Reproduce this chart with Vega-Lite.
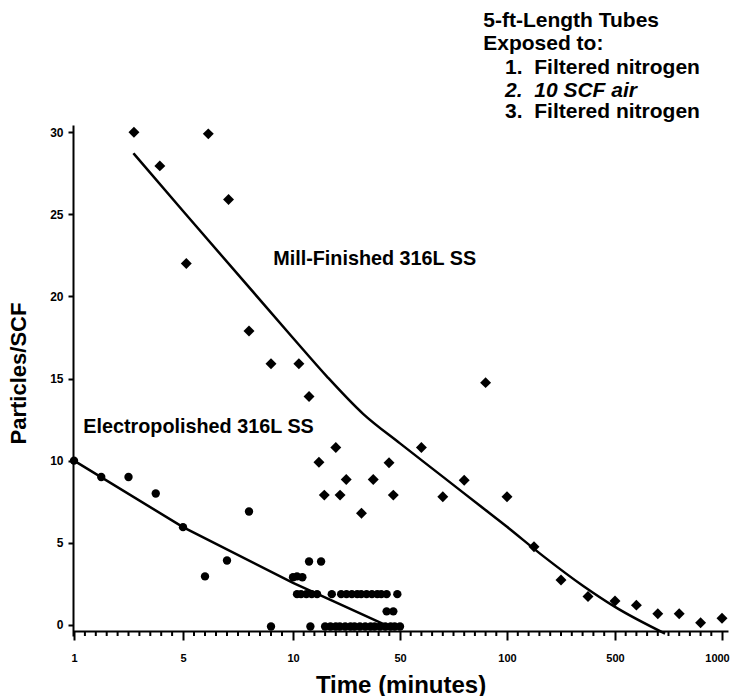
{
  "$schema": "https://vega.github.io/schema/vega-lite/v6.json",
  "width": 655,
  "height": 511,
  "autosize": "none",
  "padding": {"left": 73, "top": 125, "right": 5, "bottom": 60},
  "background": "white",
  "config": {
    "view": {"stroke": null},
    "font": "Liberation Sans",
    "axis": {"grid": false, "domainColor": "black", "tickColor": "black", "labelColor": "black", "titleColor": "black"}
  },
  "datasets": {
    "mill": [
      {"t": 3.2, "p": 30}, {"t": 4.15, "p": 27.95}, {"t": 5.15, "p": 22}, {"t": 6.15, "p": 29.9},
      {"t": 7.07, "p": 25.9}, {"t": 8, "p": 17.9}, {"t": 9, "p": 15.9}, {"t": 12.2, "p": 15.9},
      {"t": 16, "p": 13.9}, {"t": 19.7, "p": 9.9}, {"t": 21.7, "p": 7.9}, {"t": 26, "p": 10.8},
      {"t": 27.6, "p": 7.9}, {"t": 29.9, "p": 8.85}, {"t": 35.6, "p": 6.8}, {"t": 40, "p": 8.85},
      {"t": 45.9, "p": 9.87}, {"t": 47.5, "p": 7.9}, {"t": 60, "p": 10.8}, {"t": 70, "p": 7.8},
      {"t": 80, "p": 8.8}, {"t": 90, "p": 14.75}, {"t": 100, "p": 7.8}, {"t": 200, "p": 4.75},
      {"t": 300, "p": 2.73}, {"t": 400, "p": 1.72}, {"t": 500, "p": 1.45}, {"t": 600, "p": 1.2},
      {"t": 700, "p": 0.68}, {"t": 800, "p": 0.68}, {"t": 900, "p": 0.13}, {"t": 1000, "p": 0.4}
    ],
    "electro": [
      {"t": 1, "p": 10}, {"t": 2, "p": 9}, {"t": 3, "p": 9}, {"t": 4, "p": 8}, {"t": 5, "p": 5.95},
      {"t": 6, "p": 2.95}, {"t": 7, "p": 3.92}, {"t": 8, "p": 6.9}, {"t": 9, "p": -0.1},
      {"t": 10, "p": 2.9}, {"t": 11.5, "p": 2.95}, {"t": 13.5, "p": 2.9}, {"t": 16, "p": 3.86}, {"t": 20.5, "p": 3.86},
      {"t": 11.5, "p": 1.87}, {"t": 13, "p": 1.87}, {"t": 15, "p": 1.87}, {"t": 17, "p": 1.87}, {"t": 19, "p": 1.87},
      {"t": 24.5, "p": 1.87}, {"t": 28, "p": 1.87}, {"t": 30, "p": 1.87}, {"t": 32, "p": 1.87}, {"t": 34, "p": 1.87},
      {"t": 35.5, "p": 1.87}, {"t": 37.5, "p": 1.87}, {"t": 39.5, "p": 1.87}, {"t": 41.5, "p": 1.87}, {"t": 43, "p": 1.87},
      {"t": 45, "p": 1.87}, {"t": 49, "p": 1.87},
      {"t": 45, "p": 0.82}, {"t": 47.5, "p": 0.82},
      {"t": 16.5, "p": -0.1}, {"t": 22, "p": -0.1}, {"t": 24, "p": -0.1}, {"t": 26, "p": -0.1}, {"t": 27.5, "p": -0.1},
      {"t": 29.5, "p": -0.1}, {"t": 31.5, "p": -0.1}, {"t": 33, "p": -0.1}, {"t": 35, "p": -0.1}, {"t": 37, "p": -0.1},
      {"t": 39, "p": -0.1}, {"t": 40.5, "p": -0.1}, {"t": 42.5, "p": -0.1}, {"t": 44.5, "p": -0.1}, {"t": 46.5, "p": -0.1},
      {"t": 48, "p": -0.1}, {"t": 50, "p": -0.1}
    ],
    "millcurve": [
      {"t": 3.18, "p": 28.72}, {"t": 5, "p": 25.2}, {"t": 10, "p": 17.47}, {"t": 22.7, "p": 15.12},
      {"t": 36.2, "p": 12.85}, {"t": 50, "p": 11.05}, {"t": 70.1, "p": 9.01}, {"t": 87.4, "p": 7.25},
      {"t": 100, "p": 5.97}, {"t": 233, "p": 4.2}, {"t": 381, "p": 2.38}, {"t": 500, "p": 1.09},
      {"t": 734, "p": -0.54}
    ],
    "electrocurve": [
      {"t": 1, "p": 10}, {"t": 5, "p": 5.95}, {"t": 10, "p": 2.56}, {"t": 23.8, "p": 1.53}, {"t": 44.5, "p": 0}
    ],
    "minorticks": [
      {"t": 1.4}, {"t": 1.8}, {"t": 2.2}, {"t": 2.6}, {"t": 3}, {"t": 3.4}, {"t": 3.8}, {"t": 4.2}, {"t": 4.6},
      {"t": 5.5}, {"t": 6}, {"t": 6.5}, {"t": 7}, {"t": 7.5}, {"t": 8}, {"t": 8.5}, {"t": 9}, {"t": 9.5},
      {"t": 14}, {"t": 18}, {"t": 22}, {"t": 26}, {"t": 30}, {"t": 34}, {"t": 38}, {"t": 42}, {"t": 46},
      {"t": 55}, {"t": 60}, {"t": 65}, {"t": 70}, {"t": 75}, {"t": 80}, {"t": 85}, {"t": 90}, {"t": 95},
      {"t": 140}, {"t": 180}, {"t": 220}, {"t": 260}, {"t": 300}, {"t": 340}, {"t": 380}, {"t": 420}, {"t": 460},
      {"t": 550}, {"t": 600}, {"t": 650}, {"t": 700}, {"t": 750}, {"t": 800}, {"t": 850}, {"t": 900}, {"t": 950}
    ],
    "labels": [
      {"label": "Mill-Finished 316L SS", "t": 9.1, "p": 21.92},
      {"label": "Electropolished 316L SS", "t": 1.34, "p": 11.67}
    ],
    "notes": [
      {"label": "5-ft-Length Tubes", "t": 88.9, "p": 36.42},
      {"label": "Exposed to:", "t": 88.9, "p": 35.0},
      {"label": "1.\u00a0\u00a0Filtered nitrogen", "t": 99.1, "p": 33.54},
      {"label": "3.\u00a0\u00a0Filtered nitrogen", "t": 99.1, "p": 30.85}
    ],
    "notesItalic": [
      {"label": "2.\u00a0\u00a010 SCF air", "t": 99.1, "p": 32.16}
    ]
  },
  "encoding": {
    "x": {
      "field": "t",
      "type": "quantitative",
      "scale": {
        "type": "linear",
        "domain": [0.963, 5, 10, 50, 100, 500, 1000, 1028],
        "range": [0, 110, 220, 327, 434, 542, 649, 655],
        "nice": false,
        "zero": false
      },
      "axis": {
        "orient": "bottom",
        "offset": -5,
        "title": "Time (minutes)",
        "values": [1, 5, 10, 50, 100, 500, 1000],
        "format": "d",
        "tickSize": 9,
        "tickWidth": 2,
        "domainWidth": 2,
        "labelFont": "Liberation Sans",
        "labelFontWeight": "bold",
        "labelFontSize": 11,
        "labelPadding": 12,
        "labelOffset": {"condition": {"test": "datum.value == 1000", "value": -5}, "value": 0},
        "labelOverlap": false,
        "labelBound": false,
        "labelFlush": false,
        "titleFont": "Liberation Sans",
        "titleFontWeight": "bold",
        "titleFontSize": 24,
        "titleBaseline": "alphabetic",
        "titleY": 61
      }
    }
  },
  "layer": [
    {
      "data": {"name": "mill"},
      "mark": {"type": "point", "shape": "diamond", "filled": true, "color": "black", "size": 120, "opacity": 1},
      "encoding": {
        "y": {
          "field": "p",
          "type": "quantitative",
          "scale": {"domain": [-0.68, 30.44], "nice": false, "zero": false},
          "axis": {
            "title": "Particles/SCF",
            "values": [0, 5, 10, 15, 20, 25, 30],
            "tickSize": 5,
            "tickWidth": 2,
            "domainWidth": 2,
            "labelFont": "Liberation Sans",
            "labelFontWeight": "bold",
            "labelFontSize": 12,
            "labelPadding": 5,
            "titleFont": "Liberation Sans",
            "titleFontWeight": "bold",
            "titleFontSize": 22,
            "titleX": -43,
            "titleY": 248
          }
        }
      }
    },
    {
      "data": {"name": "minorticks"},
      "mark": {"type": "rule", "color": "black", "strokeWidth": 2},
      "encoding": {
        "y": {"datum": -0.38, "type": "quantitative", "scale": {"domain": [-0.68, 30.44], "nice": false, "zero": false}},
        "y2": {"datum": -0.68}
      }
    },
    {
      "data": {"name": "millcurve"},
      "mark": {"type": "line", "color": "black", "strokeWidth": 2.5, "interpolate": "monotone"},
      "encoding": {"y": {"field": "p", "type": "quantitative", "scale": {"domain": [-0.68, 30.44], "nice": false, "zero": false}}}
    },
    {
      "data": {"name": "electrocurve"},
      "mark": {"type": "line", "color": "black", "strokeWidth": 2.5},
      "encoding": {"y": {"field": "p", "type": "quantitative", "scale": {"domain": [-0.68, 30.44], "nice": false, "zero": false}}}
    },
    {
      "data": {"name": "electro"},
      "mark": {"type": "point", "shape": "circle", "filled": true, "color": "black", "size": 70, "opacity": 1},
      "encoding": {"y": {"field": "p", "type": "quantitative", "scale": {"domain": [-0.68, 30.44], "nice": false, "zero": false}}}
    },
    {
      "data": {"name": "labels"},
      "mark": {"type": "text", "align": "left", "baseline": "alphabetic", "font": "Liberation Sans", "fontWeight": "bold", "fontSize": 19.8, "color": "black"},
      "encoding": {
        "y": {"field": "p", "type": "quantitative", "scale": {"domain": [-0.68, 30.44], "nice": false, "zero": false}},
        "text": {"field": "label"}
      }
    },
    {
      "data": {"name": "notes"},
      "mark": {"type": "text", "align": "left", "baseline": "alphabetic", "font": "Liberation Sans", "fontWeight": "bold", "fontSize": 21, "color": "black", "clip": false},
      "encoding": {
        "y": {"field": "p", "type": "quantitative", "scale": {"domain": [-0.68, 30.44], "nice": false, "zero": false}},
        "text": {"field": "label"}
      }
    },
    {
      "data": {"name": "notesItalic"},
      "mark": {"type": "text", "align": "left", "baseline": "alphabetic", "font": "Liberation Sans", "fontWeight": "bold", "fontStyle": "italic", "fontSize": 21, "color": "black", "clip": false},
      "encoding": {
        "y": {"field": "p", "type": "quantitative", "scale": {"domain": [-0.68, 30.44], "nice": false, "zero": false}},
        "text": {"field": "label"}
      }
    }
  ]
}
